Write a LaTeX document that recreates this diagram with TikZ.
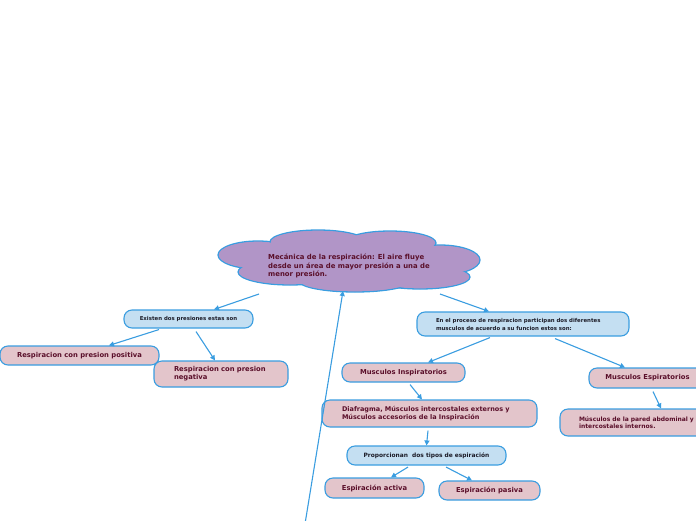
\documentclass[tikz,border=0pt]{standalone}
\usepackage{fontspec}
\setmainfont{DejaVu Sans}
\usetikzlibrary{arrows.meta}
\definecolor{edgeblue}{HTML}{3A9DE0}
\definecolor{boxblue}{HTML}{C4DFF2}
\definecolor{boxpink}{HTML}{E3C5CB}
\definecolor{cloudfill}{HTML}{B195C7}
\definecolor{maroon}{HTML}{5A0F2A}
\definecolor{darkink}{HTML}{1C1C28}
\tikzset{
  x=1pt, y=-1pt,
  basebox/.style={draw=edgeblue, line width=1.1pt, rounded corners=8pt, inner sep=0pt, font=\bfseries},
  bluebox/.style={basebox, fill=boxblue, text=darkink},
  pinkbox/.style={basebox, fill=boxpink, text=maroon},
  conn/.style={draw=edgeblue, line width=1.1pt, -{Triangle[length=5pt,width=5pt]}},
  lobe/.style={fill=cloudfill, draw=edgeblue, line width=1.3pt},
  lobefill/.style={fill=cloudfill},
  pinkfont/.style={font=\bfseries\fontsize{6.8}{8}\selectfont},
}
\begin{document}
\begin{tikzpicture}
\useasboundingbox (0,0) rectangle (696,520);
\clip (0,0) rectangle (696,520);
% cloud
\foreach \cx/\cy/\rx/\ry in {258/255/40/14, 318/242/48/12, 390/243/46/12, 440/260/40/15, 420/277/50/12, 355/281/56/11, 290/272/52/13, 350/262/100/22}{
  \path[lobe] (\cx,\cy) ellipse [x radius=\rx, y radius=\ry];
}
\foreach \cx/\cy/\rx/\ry in {258/255/40/14, 318/242/48/12, 390/243/46/12, 440/260/40/15, 420/277/50/12, 355/281/56/11, 290/272/52/13, 350/262/100/22}{
  \path[lobefill] (\cx,\cy) ellipse [x radius=\rx-0.9, y radius=\ry-0.9];
}
\node[anchor=west, align=left, inner sep=0pt, text=maroon, font=\bfseries\fontsize{6.9}{8.5}\selectfont] (cloud) at (268,266)
  {Mecánica de la respiración: El aire fluye\\desde un área de mayor presión a una de\\menor presión.};
\coordinate (cl1) at (259,294);
\coordinate (cl2) at (440,294);
\coordinate (cl3) at (343,291);
\coordinate (tail) at (304,530);

% boxes
\node[bluebox, minimum width=129pt, minimum height=18pt, font=\bfseries\fontsize{5.4}{6}\selectfont] (ex) at (188.5,319) {Existen dos presiones estas son};
\node[pinkbox, pinkfont, minimum width=159pt, minimum height=19pt] (pos) at (79.5,355.5) {Respiracion con presion positiva};
\node[pinkbox, pinkfont, minimum width=134pt, minimum height=26pt, align=left, text width=94pt, inner xsep=20pt] (neg) at (221,374) {Respiracion con presion\\negativa};
\node[bluebox, minimum width=212pt, minimum height=24pt, align=left, text width=174pt, inner xsep=19pt, font=\bfseries\fontsize{5.4}{8}\selectfont] (pr) at (523,324) {En el proceso de respiracion participan dos diferentes\\musculos de acuerdo a su funcion estos son:};
\node[pinkbox, pinkfont, minimum width=123pt, minimum height=19pt] (insp) at (403.5,372.5) {Musculos Inspiratorios};
\node[pinkbox, pinkfont, minimum width=117pt, minimum height=20pt] (esp) at (647.5,378) {Musculos Espiratorios};
\node[pinkbox, minimum width=215pt, minimum height=27pt, align=left, text width=175pt, inner xsep=20pt, font=\bfseries\fontsize{6.5}{8}\selectfont] (dia) at (429.5,413.5) {Diafragma, Músculos intercostales externos y\\Músculos accesorios de la Inspiración};
\node[pinkbox, minimum width=230pt, minimum height=27pt, align=left, text width=192pt, inner xsep=19pt, font=\bfseries\fontsize{6}{7}\selectfont] (mp) at (675,422.5) {Músculos de la pared abdominal y los\\intercostales internos.};
\node[bluebox, minimum width=159pt, minimum height=19pt, font=\bfseries\fontsize{5.9}{6.5}\selectfont] (prop) at (426.5,455.5) {Proporcionan\ \ dos tipos de espiración};
\node[pinkbox, pinkfont, minimum width=99pt, minimum height=20pt] (act) at (374.5,488) {Espiración activa};
\node[pinkbox, pinkfont, minimum width=101pt, minimum height=19pt] (pas) at (489.5,490.5) {Espiración pasiva};

% connectors
\draw[conn] (cl1) -- ([xshift=25.5pt]ex.north);
\draw[conn] (cl2) -- ([xshift=-34pt]pr.north);
\draw[conn] ([xshift=-29.5pt,yshift=-1pt]ex.south) -- ([xshift=29.5pt]pos.north);
\draw[conn] ([xshift=7.5pt,yshift=-3pt]ex.south) -- ([xshift=-6pt]neg.north);
\draw[conn] ([xshift=-33pt,yshift=-1pt]pr.south) -- ([xshift=24.5pt]insp.north);
\draw[conn] ([xshift=32pt,yshift=-2pt]pr.south) -- ([xshift=-22.5pt]esp.north);
\draw[conn] ([xshift=6.5pt,yshift=-2pt]insp.south) -- ([xshift=-7.5pt]dia.north);
\draw[conn] ([xshift=5.5pt,yshift=-3pt]esp.south) -- ([xshift=-14pt]mp.north);
\draw[conn] ([xshift=-1.5pt,yshift=-3pt]dia.south) -- (prop.north);
\draw[conn] ([xshift=-18.5pt,yshift=-1.5pt]prop.south) -- ([xshift=16.5pt]act.north);
\draw[conn] ([xshift=19.5pt,yshift=-1.5pt]prop.south) -- ([xshift=-17.5pt]pas.north);
\draw[conn] (tail) -- (cl3);
\end{tikzpicture}
\end{document}
